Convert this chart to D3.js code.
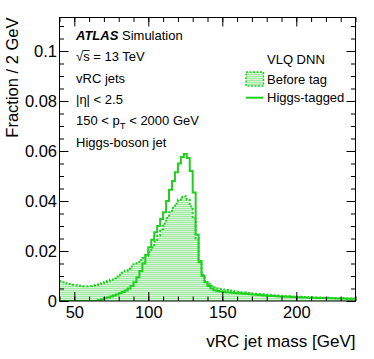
<!DOCTYPE html>
<html><head><meta charset="utf-8">
<script src="https://cdn.jsdelivr.net/npm/d3@7"></script>
<style>body{margin:0;background:#fff}svg{display:block}text{font-family:"Liberation Sans",Arial,Helvetica,sans-serif}</style>
</head><body><svg id="c" width="374" height="359"></svg>
<script>
const binEdges = d3.range(40, 240, 2);           // left edges of 2 GeV bins
const beforeTag = [
 0.0079,0.0075,0.0071,0.0068,0.0065,0.0063,0.0061,0.0060,0.0059,0.0059,
 0.0060,0.0062,0.0064,0.0067,0.0071,0.0075,0.0080,0.0085,0.0091,0.0098,
 0.0105,0.0113,0.0121,0.0129,0.0138,0.0147,0.0156,0.0164,0.0172,0.0181,
 0.0196,0.0215,0.0238,0.0262,0.0287,0.0310,0.0332,0.0355,0.0373,0.0390,
 0.0405,0.0416,0.0419,0.0405,0.0378,0.0330,0.0250,0.0160,0.0105,0.0080,
 0.0067,0.0060,0.0055,0.0051,0.0048,0.0046,0.0044,0.0042,0.0040,0.0038,
 0.0037,0.0035,0.0034,0.0032,0.0031,0.0030,0.0029,0.0028,0.0027,0.0026,
 0.0025,0.0024,0.0023,0.0022,0.0021,0.0021,0.0020,0.0019,0.0018,0.0018,
 0.0017,0.0017,0.0016,0.0016,0.0015,0.0015,0.0014,0.0014,0.0013,0.0013,
 0.0013,0.0012,0.0012,0.0012,0.0011,0.0011,0.0011,0.0010,0.0010,0.0010];
const higgsTagged = [
 0,0,0,0,0,0,0,0,0,0,
 0,0,0,0.0003,0.0007,0.0011,0.0014,0.0018,0.0022,0.0026,
 0.0031,0.0036,0.0042,0.0050,0.0060,0.0075,0.0095,0.0120,0.0150,0.0185,
 0.0215,0.0245,0.0275,0.0300,0.0328,0.0355,0.0400,0.0445,0.0480,0.0515,
 0.0550,0.0576,0.0588,0.0572,0.0520,0.0434,0.0265,0.0155,0.0100,0.0075,
 0.0060,0.0050,0.0043,0.0040,0.0038,0.0036,0.0035,0.0034,0.0033,0.0032,
 0.0031,0.0030,0.0029,0.0028,0.0027,0.0026,0.0025,0.0024,0.0023,0.0022,
 0.0021,0.0020,0.0020,0.0019,0.0018,0.0018,0.0017,0.0017,0.0016,0.0016,
 0.0015,0.0015,0.0014,0.0014,0.0013,0.0013,0.0013,0.0012,0.0012,0.0012,
 0.0011,0.0011,0.0011,0.0010,0.0010,0.0010,0.0010,0.0009,0.0009,0.0009];
const xTicks = [50, 100, 150, 200];
const yTicks = [0, 0.02, 0.04, 0.06, 0.08, 0.1];
const infoLines = ["√s = 13 TeV", "vRC jets", "|η| < 2.5", "150 < p_T < 2000 GeV", "Higgs-boson jet"];
const legendTitle = "VLQ DNN";
const seriesNames = ["Before tag", "Higgs-tagged"];

const BIN = 2, GREEN = "#1fd11f";
const L = 59.5, R = 355.5, T = 17.5, B = 301;
const svg = d3.select("#c");
const x = d3.scaleLinear().domain([40, 240]).range([L, R]);
const y = d3.scaleLinear().domain([0, 0.1134]).range([B, T]);

const defs = svg.append("defs");
const pat = defs.append("pattern").attr("id","hatch").attr("patternUnits","userSpaceOnUse")
  .attr("width",2).attr("height",2);
pat.append("rect").attr("width",2).attr("height",2).attr("fill","#d6f5d6");
pat.append("rect").attr("width",2).attr("height",1).attr("fill","#a3e8a3");
defs.append("clipPath").attr("id","clip").append("rect").attr("x",L).attr("y",T).attr("width",R-L).attr("height",B-T);

function stepPts(vals){
  const pts = [];
  vals.forEach((v,i)=>{ pts.push([binEdges[i], v]); pts.push([binEdges[i]+BIN, v]); });
  return pts;
}
const g = svg.append("g").attr("clip-path","url(#clip)");
const area = d3.area().x(d=>x(d[0])).y0(y(0)).y1(d=>y(d[1]));
const line = d3.line().x(d=>x(d[0])).y(d=>y(d[1]));
const bp = stepPts(beforeTag), hp = stepPts(higgsTagged);
g.append("path").attr("d", area(bp)).attr("fill","url(#hatch)");
g.append("path").attr("d", line(bp)).attr("fill","none").attr("stroke",GREEN).attr("stroke-width",2).attr("stroke-dasharray","2,2");
g.append("path").attr("d", line(hp)).attr("fill","none").attr("stroke",GREEN).attr("stroke-width",2);

// axes
const fmtY = d => d === 0 ? "0" : String(+d.toFixed(2));
const major = 9, minor = 4.5, FS = 16.5;
function styleAxis(sel){ sel.select(".domain").remove(); sel.selectAll("line").attr("stroke","#000"); sel.selectAll("text").attr("font-size",FS).attr("fill","#000").attr("font-family","Liberation Sans, Arial, sans-serif"); }
svg.append("g").attr("transform",`translate(0,${B})`).call(d3.axisBottom(x).tickValues(xTicks).tickSizeInner(-major).tickSizeOuter(0).tickPadding(5)).call(styleAxis);
svg.append("g").attr("transform",`translate(0,${B})`).call(d3.axisBottom(x).tickValues(d3.range(40,241,10)).tickSizeInner(-minor).tickSizeOuter(0).tickFormat("")).call(styleAxis);
svg.append("g").attr("transform",`translate(0,${T})`).call(d3.axisTop(x).tickValues(xTicks).tickSizeInner(-major).tickSizeOuter(0).tickFormat("")).call(styleAxis);
svg.append("g").attr("transform",`translate(0,${T})`).call(d3.axisTop(x).tickValues(d3.range(40,241,10)).tickSizeInner(-minor).tickSizeOuter(0).tickFormat("")).call(styleAxis);
svg.append("g").attr("transform",`translate(${L},0)`).call(d3.axisLeft(y).tickValues(yTicks).tickSizeInner(-major).tickSizeOuter(0).tickPadding(2.5).tickFormat(fmtY)).call(styleAxis);
svg.append("g").attr("transform",`translate(${L},0)`).call(d3.axisLeft(y).tickValues(d3.range(0,0.1131,0.005)).tickSizeInner(-minor).tickSizeOuter(0).tickFormat("")).call(styleAxis);
svg.append("g").attr("transform",`translate(${R},0)`).call(d3.axisRight(y).tickValues(yTicks).tickSizeInner(-major).tickSizeOuter(0).tickFormat("")).call(styleAxis);
svg.append("g").attr("transform",`translate(${R},0)`).call(d3.axisRight(y).tickValues(d3.range(0,0.1131,0.005)).tickSizeInner(-minor).tickSizeOuter(0).tickFormat("")).call(styleAxis);
svg.append("rect").attr("x",L).attr("y",T).attr("width",R-L).attr("height",B-T).attr("fill","none").attr("stroke","#000").attr("stroke-width",1);

// titles
svg.append("text").attr("x",R).attr("y",347).attr("text-anchor","end").attr("font-size",17).text("vRC jet mass [GeV]");
svg.append("text").attr("transform",`translate(17.5,${T}) rotate(-90)`).attr("text-anchor","end").attr("font-size",16.5).text("Fraction / 2 GeV");

// ATLAS label
const TX = 76, TF = 13;
const t0 = svg.append("text").attr("x",TX).attr("y",39.5).attr("font-size",TF);
t0.append("tspan").attr("font-weight","bold").attr("font-style","italic").text("ATLAS");
t0.append("tspan").text("  Simulation");
const lineY = [61, 82.5, 103.5, 124.5, 146.5];
infoLines.forEach((s,i)=>{
  const t = svg.append("text").attr("x",TX).attr("y",lineY[i]).attr("font-size",TF);
  if (s.includes("p_T")) {
    const [a,b] = s.split("p_T");
    t.append("tspan").text(a + "p");
    t.append("tspan").attr("font-size",9.5).attr("dy",4).text("T");
    t.append("tspan").attr("dy",-4).text(b);
  } else if (s.startsWith("√s")) {
    t.append("tspan").text("√");
    const sp = t.append("tspan").text("s");
    t.append("tspan").text(s.slice(2));
    const n = t.node();
    const x0 = TX + n.getSubStringLength(0,1) - 0.5, w = n.getSubStringLength(1,1) + 0.5;
    svg.append("line").attr("x1",x0).attr("x2",x0+w).attr("y1",lineY[i]-10.5).attr("y2",lineY[i]-10.5).attr("stroke","#000").attr("stroke-width",0.9);
  } else t.text(s);
});

// legend
svg.append("text").attr("x",267).attr("y",63.5).attr("font-size",TF).text(legendTitle);
svg.append("rect").attr("x",246).attr("y",72).attr("width",17.5).attr("height",14).attr("fill","url(#hatch)").attr("stroke",GREEN).attr("stroke-width",1.5).attr("stroke-dasharray","2,1.5");
svg.append("text").attr("x",267).attr("y",83.5).attr("font-size",TF).text(seriesNames[0]);
svg.append("line").attr("x1",246).attr("x2",263.5).attr("y1",97.7).attr("y2",97.7).attr("stroke",GREEN).attr("stroke-width",2);
svg.append("text").attr("x",267).attr("y",102).attr("font-size",TF).text(seriesNames[1]);
</script></body></html>
